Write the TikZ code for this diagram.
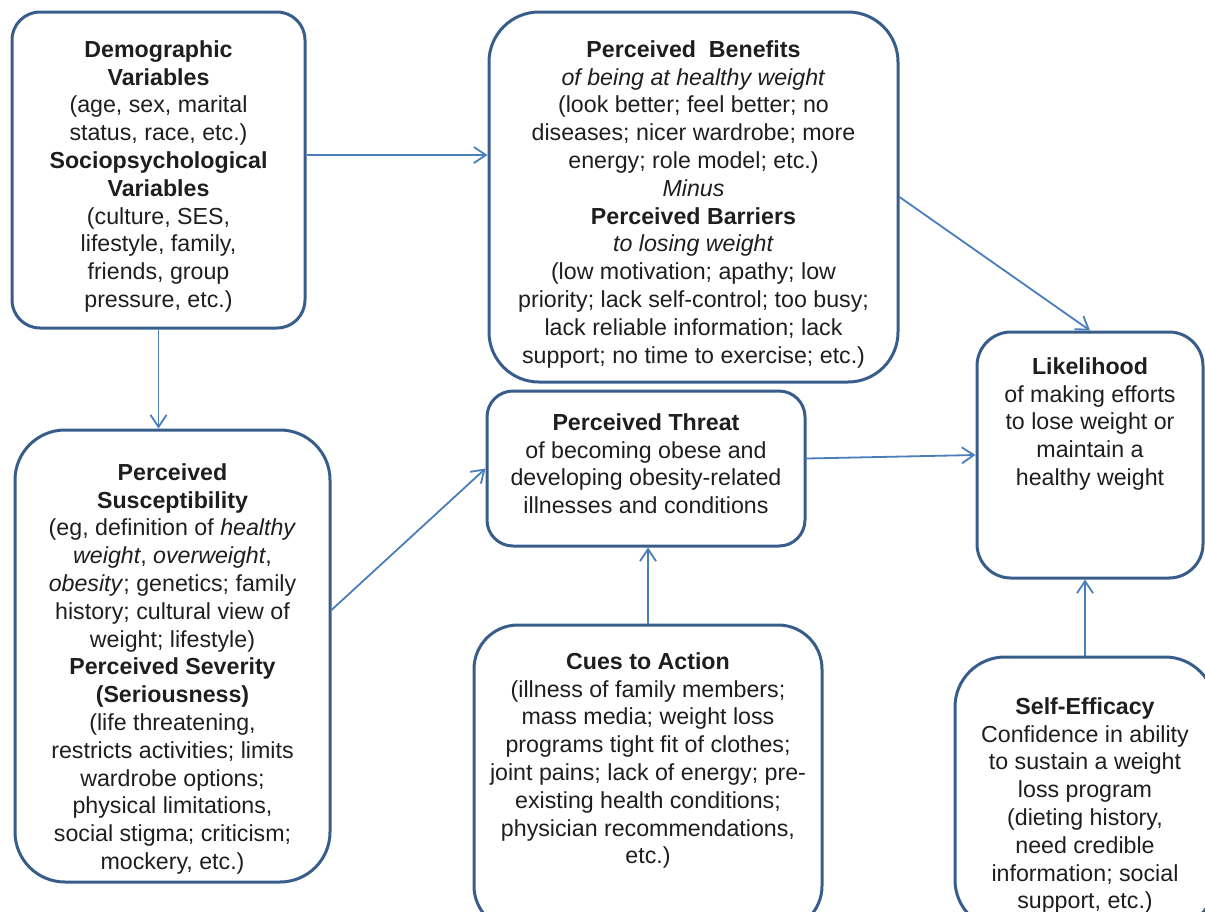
\documentclass[tikz,border=0pt]{standalone}
\usepackage{fontspec}
\setmainfont{Liberation Sans}
\usetikzlibrary{arrows.meta}
\definecolor{boxblue}{RGB}{56,93,138}
\definecolor{arrowblue}{RGB}{74,126,187}
\definecolor{ink}{RGB}{30,30,30}

\begin{document}
\begin{tikzpicture}[x=0.5pt,y=-0.5pt,>={Straight Barb[length=6pt,width=8pt]},
    hbmbox/.style={draw=boxblue,line width=1.5pt,rounded corners=#1,inner sep=0pt},
    boxtext/.style={anchor=north,inner sep=0pt,align=center,text=ink,
        font=\fontsize{11.6}{13.9}\selectfont},
    every edge/.style={draw=arrowblue,line width=0.9pt,->}]
                \clip (0,0) rectangle (1205,911);
                % boxes
                \node[hbmbox=14pt,minimum width=146.5pt,minimum height=158pt](demo)at(158.5, 170){};
                \node[hbmbox=25pt,minimum width=204.5pt,minimum height=185pt](benefit)at(693.5, 197){};
                \node[hbmbox=17pt,minimum width=113pt,minimum height=123pt](likely)at(1090, 455){};
                \node[hbmbox=25pt,minimum width=157.5pt,minimum height=226pt](suscept)at(172.5, 656){};
                \node[hbmbox=13pt,minimum width=159pt,minimum height=77.5pt](threat)at(646, 468.5){};
                \node[hbmbox=22pt,minimum width=174pt,minimum height=152.5pt](cues)at(648, 777.5){};
                \node[hbmbox=25pt,minimum width=130pt,minimum height=136.5pt](efficacy)at(1085, 793.5){};

                % texts
                \node[boxtext](demotext)at(158.5, 40){\textbf{Demographic}\\ \textbf{Variables}\\
                    (age, sex, marital\\ status, race, etc.)\\ \textbf{Sociopsychological}\\
                    \textbf{Variables}\\ (culture, SES,\\ lifestyle, family,\\ friends, group\\ pressure, etc.)};
                \node[boxtext](benefittext)at(693.5, 40){\textbf{Perceived\ \ Benefits}\\
                    \textit{of being at healthy weight}\\ (look better; feel better; no\\
                    diseases; nicer wardrobe; more\\ energy; role model; etc.)\\ \textit{Minus}\\
                    \textbf{Perceived Barriers}\\ \textit{to losing weight}\\ (low motivation; apathy; low\\
                    priority; lack self-control; too busy;\\ lack reliable information; lack\\
                    support; no time to exercise; etc.)};
                \node[boxtext](likelytext)at(1090, 357){\textbf{Likelihood}\\ of making efforts\\
                    to lose weight or\\ maintain a\\ healthy weight};
                \node[boxtext](suscepttext)at(172.5, 463){\textbf{Perceived}\\ \textbf{Susceptibility}\\
                    (eg, definition of \textit{healthy}\\ \textit{weight}, \textit{overweight},\\
                    \textit{obesity}; genetics; family\\ history; cultural view of\\ weight; lifestyle)\\
                    \textbf{Perceived Severity}\\ \textbf{(Seriousness)}\\ (life threatening,\\
                    restricts activities; limits\\ wardrobe options;\\ physical limitations,\\
                    social stigma; criticism;\\ mockery, etc.)};
                \node[boxtext](threattext)at(646, 413){\textbf{Perceived Threat}\\ of becoming obese and\\
                    developing obesity-related\\ illnesses and conditions};
                \node[boxtext](cuestext)at(648, 652){\textbf{Cues to Action}\\ (illness of family members;\\
                    mass media; weight loss\\ programs tight fit of clothes;\\ joint pains; lack of energy; pre-\\
                    existing health conditions;\\ physician recommendations,\\ etc.)};
                \node[boxtext](efficacytext)at(1085, 697){\textbf{Self-Efficacy}\\ Confidence in ability\\
                    to sustain a weight\\ loss program\\ (dieting history,\\ need credible\\
                    information; social\\ support, etc.)};

                % arrows
                \coordinate(demoout)at([yshift=7.5pt]demo.east);
                \coordinate(suscout)at([yshift=23pt]suscept.east);
                \coordinate(threatout)at([yshift=5pt]threat.east);
                \path[](demoout) edge (demoout -| benefit.west)
                (demo.south) edge (demo.south |- suscept.north)
                (benefit.east) edge (likely.north)
                (suscout) edge (threat.west)
                (threatout) edge (likely.west)
                (cues.north) edge (cues.north |- threat.south)
                (efficacy.north) edge (efficacy.north |- likely.south);
\end{tikzpicture}
\end{document}
